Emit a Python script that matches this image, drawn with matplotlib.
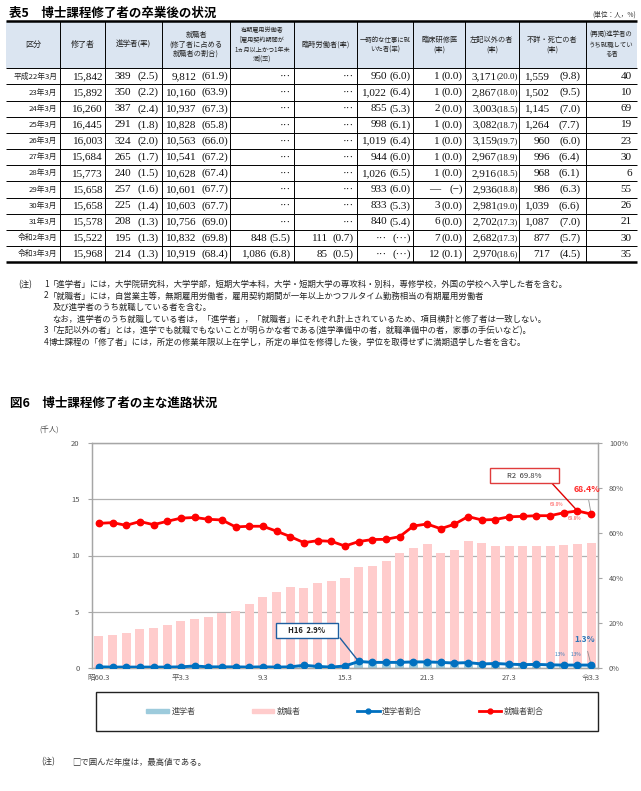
import matplotlib
matplotlib.use('Agg')
import matplotlib.pyplot as plt
from matplotlib.patches import Rectangle, Patch
from matplotlib.lines import Line2D
import numpy as np

plt.rcParams['font.family'] = ['Noto Sans CJK JP', 'DejaVu Sans']
SERIF = ['Liberation Serif', 'DejaVu Serif']

W, H = 641, 791

# ---------------- table data (表5) ----------------
row_labels = ['平成22年3月', '23年3月', '24年3月', '25年3月', '26年3月', '27年3月',
              '28年3月', '29年3月', '30年3月', '31年3月', '令和2年3月', '令和3年3月']
shuryo_n = ['15,842', '15,892', '16,260', '16,445', '16,003', '15,684',
            '15,773', '15,658', '15,658', '15,578', '15,522', '15,968']
shinko_n = ['389', '350', '387', '291', '324', '265', '240', '257', '225', '208', '195', '214']
shinko_r = ['2.5', '2.2', '2.4', '1.8', '2.0', '1.7', '1.5', '1.6', '1.4', '1.3', '1.3', '1.3']
shugyo_n = ['9,812', '10,160', '10,937', '10,828', '10,563', '10,541',
            '10,628', '10,601', '10,603', '10,756', '10,832', '10,919']
shugyo_r = ['61.9', '63.9', '67.3', '65.8', '66.0', '67.2', '67.4', '67.7', '67.7', '69.0', '69.8', '68.4']
yuki_n = ['···'] * 10 + ['848', '1,086']
yuki_r = [None] * 10 + ['5.5', '6.8']
rinji_n = ['···'] * 10 + ['111', '85']
rinji_r = [None] * 10 + ['0.7', '0.5']
ichiji_n = ['950', '1,022', '855', '998', '1,019', '944', '1,026', '933', '833', '840', '···', '···']
ichiji_r = ['6.0', '6.4', '5.3', '6.1', '6.4', '6.0', '6.5', '6.0', '5.3', '5.4', '···', '···']
rinsho_n = ['1', '1', '2', '1', '1', '1', '1', '—', '3', '6', '7', '12']
rinsho_r = ['0.0', '0.0', '0.0', '0.0', '0.0', '0.0', '0.0', '−', '0.0', '0.0', '0.0', '0.1']
sonota_n = ['3,171', '2,867', '3,003', '3,082', '3,159', '2,967', '2,916', '2,936', '2,981', '2,702', '2,682', '2,970']
sonota_r = ['20.0', '18.0', '18.5', '18.7', '19.7', '18.9', '18.5', '18.8', '19.0', '17.3', '17.3', '18.6']
fusho_n = ['1,559', '1,502', '1,145', '1,264', '960', '996', '968', '986', '1,039', '1,087', '877', '717']
fusho_r = ['9.8', '9.5', '7.0', '7.7', '6.0', '6.4', '6.1', '6.3', '6.6', '7.0', '5.7', '4.5']
saikei_n = ['40', '10', '69', '19', '23', '30', '6', '55', '26', '21', '30', '35']

headers = ['区分', '修了者', '進学者(率)', '就職者\n(修了者に占める\n就職者の割合)',
           '有期雇用労働者\n[雇用契約期間が\n1ヵ月以上かつ1年未\n満](率)', '臨時労働者(率)',
           '一時的な仕事に就\nいた者(率)', '臨床研修医\n(率)', '左記以外の者\n(率)',
           '不詳・死亡の者\n(率)', '(再掲)進学者の\nうち就職してい\nる者']

notes = [
    ('(注)', '1', '「進学者」には，大学院研究科，大学学部，短期大学本科，大学・短期大学の専攻科・別科，専修学校，外国の学校へ入学した者を含む。'),
    ('', '2', '「就職者」には，自営業主等，無期雇用労働者，雇用契約期間が一年以上かつフルタイム勤務相当の有期雇用労働者'),
    ('', '', '及び進学者のうち就職している者を含む。'),
    ('', '', 'なお，進学者のうち就職している者は，「進学者」，「就職者」にそれぞれ計上されているため、項目横計と修了者は一致しない。'),
    ('', '3', '「左記以外の者」とは，進学でも就職でもないことが明らかな者である(進学準備中の者，就職準備中の者，家事の手伝いなど)。'),
    ('', '4', '博士課程の「修了者」には，所定の修業年限以上在学し，所定の単位を修得した後，学位を取得せずに満期退学した者を含む。'),
]

# ---------------- chart data (図6) ----------------
xlabels = ['昭60.3', '平3.3', '9.3', '15.3', '21.3', '27.3', '令3.3']
shinko = [0.02, 0.02, 0.02, 0.02, 0.02, 0.03, 0.03, 0.05, 0.03, 0.04, 0.04, 0.04, 0.05,
          0.04, 0.06, 0.15, 0.09, 0.05, 0.12, 0.44, 0.38, 0.40, 0.42, 0.42, 0.43,
          0.389, 0.350, 0.387, 0.291, 0.324, 0.265, 0.240, 0.257, 0.225, 0.208, 0.195, 0.214]
shugyo = [2.80, 2.88, 3.10, 3.47, 3.56, 3.78, 4.12, 4.30, 4.47, 4.82, 5.06, 5.65, 6.22,
          6.70, 7.13, 6.98, 7.50, 7.70, 7.92, 8.55, 8.72, 9.13, 9.83, 10.29, 10.57,
          9.812, 10.160, 10.937, 10.828, 10.563, 10.541, 10.628, 10.601, 10.603, 10.756, 10.832, 10.919]
shinko_rate = [0.5, 0.4, 0.4, 0.4, 0.4, 0.4, 0.5, 0.9, 0.5, 0.5, 0.5, 0.4, 0.5, 0.4, 0.5,
               1.2, 0.7, 0.4, 0.9, 2.9, 2.5, 2.5, 2.5, 2.7, 2.7,
               2.5, 2.2, 2.4, 1.8, 2.0, 1.7, 1.5, 1.6, 1.4, 1.3, 1.3, 1.3]
shugyo_rate = [64.3, 64.6, 63.4, 65.1, 63.7, 65.2, 66.6, 66.9, 66.1, 65.8, 62.7, 63.0, 63.0,
               60.8, 58.4, 55.7, 56.6, 56.3, 54.2, 56.2, 57.1, 57.2, 58.4, 63.1, 64.0,
               61.9, 63.9, 67.3, 65.8, 66.0, 67.2, 67.4, 67.7, 67.7, 69.0, 69.8, 68.4]

fig = plt.figure(figsize=(6.41, 7.91), dpi=100)
bg = fig.add_axes([0, 0, 1, 1])
bg.set_xlim(0, W)
bg.set_ylim(H, 0)
bg.axis('off')

# ---------------- table ----------------
bg.text(9, 13, '表5　博士課程修了者の卒業後の状況', fontsize=9, fontweight='bold', va='center')
bg.text(636, 15, '(単位：人，%)', fontsize=4.8, ha='right', va='center', color='#333333')

col_x = [6, 60, 105, 162.3, 230, 294.3, 356.7, 413.3, 465, 519, 585.7, 636.7]
top, head_bot, bot = 20.7, 68.3, 262.3
row_h = (bot - head_bot) / len(row_labels)

bg.add_patch(Rectangle((col_x[0], top), col_x[-1] - col_x[0], head_bot - top,
                       facecolor='#dbe5f1', lw=0))
bg.hlines([head_bot + i * row_h for i in range(len(row_labels))], col_x[0], col_x[-1],
          color='black', lw=0.7)
bg.hlines([top, bot], col_x[0], col_x[-1], color='black', lw=1.8)
bg.vlines(col_x[1:-1], top, bot, color='black', lw=0.7)

head_size = [5.8, 5.8, 5.4, 5.2, 4.4, 5.2, 4.6, 5.2, 5.2, 5.2, 4.6]
for i, txt in enumerate(headers):
    bg.text((col_x[i] + col_x[i + 1]) / 2, (top + head_bot) / 2, txt, fontsize=head_size[i],
            ha='center', va='center', linespacing=1.25, color='#222222')

# (column, numbers, rates, number offset, rate offset, rate size)
cols = [
    (1, shuryo_n, None, 2, 0, 0),
    (2, shinko_n, shinko_r, 31, 3.5, 8),
    (3, shugyo_n, shugyo_r, 33.5, 2, 8),
    (4, yuki_n, yuki_r, 27, 4, 8),
    (5, rinji_n, rinji_r, 29, 3.5, 8),
    (6, ichiji_n, ichiji_r, 26, 2.5, 8),
    (7, rinsho_n, rinsho_r, 25, 2, 8),
    (8, sonota_n, sonota_r, 22, 1, 6.3),
    (9, fusho_n, fusho_r, 35.5, 5.5, 8),
    (10, saikei_n, None, 5, 0, 0),
]
for r, lab in enumerate(row_labels):
    yc = head_bot + (r + 0.5) * row_h
    bg.text(57.3, yc, lab, fontsize=5.6, ha='right', va='center', color='#222222')
    for c, nums, rates, noff, roff, rsize in cols:
        right = col_x[c + 1]
        rate = rates[r] if rates is not None else None
        if rate is None:
            off = noff if rates is None else 3
            bg.text(right - off, yc, nums[r], fontsize=8, ha='right', va='center',
                    family=SERIF, color='#111111')
        else:
            bg.text(right - noff, yc, nums[r], fontsize=8, ha='right', va='center',
                    family=SERIF, color='#111111')
            bg.text(right - roff, yc, '(' + rate + ')', fontsize=rsize, ha='right',
                    va='center', family=SERIF, color='#111111')

note_y = [284.5, 296, 307.5, 319.3, 330.8, 342.3]
for (a, b, t), y in zip(notes, note_y):
    if a:
        bg.text(18, y, a, fontsize=6, va='center', color='#222222')
    if b:
        bg.text(44, y, b, fontsize=6, va='center', color='#222222')
        bg.text(48.6, y, t, fontsize=6, va='center', color='#222222')
    else:
        bg.text(52.7, y, t, fontsize=6, va='center', color='#222222')

# ---------------- chart ----------------
bg.text(10, 403.5, '図6　博士課程修了者の主な進路状況', fontsize=9, fontweight='bold', va='center')
bg.text(39, 430, '(千人)', fontsize=5.3, va='center', color='#444444')

ax = fig.add_axes([92 / W, 1 - 668 / H, 506 / W, 225 / H])
ax.set_facecolor('none')
x = np.arange(len(shugyo))
ax.bar(x, shinko, width=0.66, color='#9dcbdc', zorder=2)
ax.bar(x, shugyo, bottom=shinko, width=0.66, color='#ffcccc', zorder=2)
ax.set_xlim(-0.5, len(x) - 0.5)
ax.set_ylim(0, 20)
ax.set_yticks([0, 5, 10, 15, 20])
ax.yaxis.grid(True, color='#b0b0b0', lw=0.9)
ax.set_axisbelow(True)
ax.set_xticks(np.arange(0, len(x), 6))
ax.set_xticklabels(xlabels)
ax.tick_params(axis='x', length=0, pad=4, labelsize=5.5, labelcolor='#555555')
ax.tick_params(axis='y', length=3, width=0.8, color='#a6a6a6', pad=6,
               labelsize=5.5, labelcolor='#555555')

ax2 = ax.twinx()
ax2.set_ylim(0, 100)
ax2.set_yticks(range(0, 101, 20))
ax2.set_yticklabels([f'{v}%' for v in range(0, 101, 20)])
ax2.tick_params(axis='y', length=3, width=0.8, color='#a6a6a6', pad=5,
                labelsize=5.3, labelcolor='#555555')
for a in (ax, ax2):
    for s in a.spines.values():
        s.set_color('#a6a6a6')
        s.set_linewidth(0.9)

ax2.plot(x, shinko_rate, color='#0070c0', lw=2.1, marker='o', ms=4.6, zorder=4)
ax2.plot(x, shugyo_rate, color='#ff0000', lw=2.0, marker='o', ms=4.6, zorder=4)


def axfrac(xp, yp):
    return ((xp - 92) / 506, (668 - yp) / 225)


# R2 maximum box
ax2.add_patch(Rectangle(axfrac(490, 483), 69 / 506, 15.3 / 225, facecolor='white',
                        edgecolor='#e03c3c', lw=1, transform=ax2.transAxes, zorder=6,
                        clip_on=False))
imax = int(np.argmax(shugyo_rate))
ax2.text(*axfrac(524.5, 475.5), f'R2  {shugyo_rate[imax]}%', transform=ax2.transAxes,
         fontsize=5.5, ha='center', va='center', color='#333333', zorder=7)
ax2.annotate('', xy=(imax, shugyo_rate[imax]), xytext=axfrac(551.7, 483),
             textcoords='axes fraction',
             arrowprops=dict(arrowstyle='-', color='#e00000', lw=1, shrinkA=0, shrinkB=2))
ax2.annotate(f'{shugyo_rate[-1]}%', xy=(len(x) - 1, shugyo_rate[-1]),
             xytext=axfrac(586.7, 489), textcoords='axes fraction', fontsize=6.3,
             fontweight='bold', color='#ff2a2a', ha='center', va='center',
             arrowprops=dict(arrowstyle='-', color='#909090', lw=0.6, shrinkA=3, shrinkB=2))
ax2.annotate(f'{shugyo_rate[34]}%', xy=(34, shugyo_rate[34]), xytext=axfrac(556.7, 505),
             textcoords='axes fraction', fontsize=3.4, color='#ff4a4a', ha='center',
             va='center')
ax2.annotate(f'{shugyo_rate[35]}%', xy=(35, shugyo_rate[35]), xytext=axfrac(574, 518),
             textcoords='axes fraction', fontsize=3.4, color='#ff4a4a', ha='center',
             va='center')

# H16 maximum box
ax2.add_patch(Rectangle(axfrac(276.3, 638.3), 61.7 / 506, 15 / 225, facecolor='white',
                        edgecolor='#1f5fa0', lw=1, transform=ax2.transAxes, zorder=6,
                        clip_on=False))
jmax = int(np.argmax(shinko_rate))
ax2.text(*axfrac(307, 630.8), f'H16  {shinko_rate[jmax]}%', transform=ax2.transAxes,
         fontsize=5.5, fontweight='bold', ha='center', va='center', color='#222222', zorder=7)
ax2.annotate('', xy=(jmax, shinko_rate[jmax]), xytext=axfrac(340, 638),
             textcoords='axes fraction',
             arrowprops=dict(arrowstyle='-', color='#1f5fa0', lw=1, shrinkA=0, shrinkB=2))
ax2.annotate(f'{shinko_rate[-1]}%', xy=(len(x) - 1, shinko_rate[-1]),
             xytext=axfrac(584.7, 640), textcoords='axes fraction', fontsize=6,
             fontweight='bold', color='#2e75b6', ha='center', va='center',
             arrowprops=dict(arrowstyle='-', color='#909090', lw=0.6, shrinkA=3, shrinkB=2))
for k, xp in ((34, 559.7), (35, 576)):
    ax2.annotate(f'{shinko_rate[k]}%', xy=(k, shinko_rate[k]), xytext=axfrac(xp, 654),
                 textcoords='axes fraction', fontsize=3.4, color='#2e75b6', ha='center',
                 va='center',
                 arrowprops=dict(arrowstyle='-', color='#909090', lw=0.4, shrinkA=2, shrinkB=2))

# legend
bg.add_patch(Rectangle((95.5, 692), 502, 39, facecolor='white', edgecolor='#222222', lw=1))
handles = [Patch(color='#9dcbdc'), Patch(color='#ffcccc'),
           Line2D([], [], color='#0070c0', lw=2, marker='o', ms=3.5),
           Line2D([], [], color='#ff0000', lw=2, marker='o', ms=3.5)]
fig.legend(handles, ['進学者', '就職者', '進学者割合', '就職者割合'], ncol=4, loc='center',
           bbox_to_anchor=(345 / W, 1 - 711.5 / H), frameon=False, fontsize=5.8,
           handlelength=2.8, handleheight=0.5, handletextpad=0.3, columnspacing=7.0,
           labelcolor='#444444')

bg.text(41, 762, '(注)', fontsize=6, va='center', color='#333333')
bg.text(72, 762, '□で囲んだ年度は，最高値である。', fontsize=6, va='center', color='#333333')

fig.savefig('out.png', dpi=100)
